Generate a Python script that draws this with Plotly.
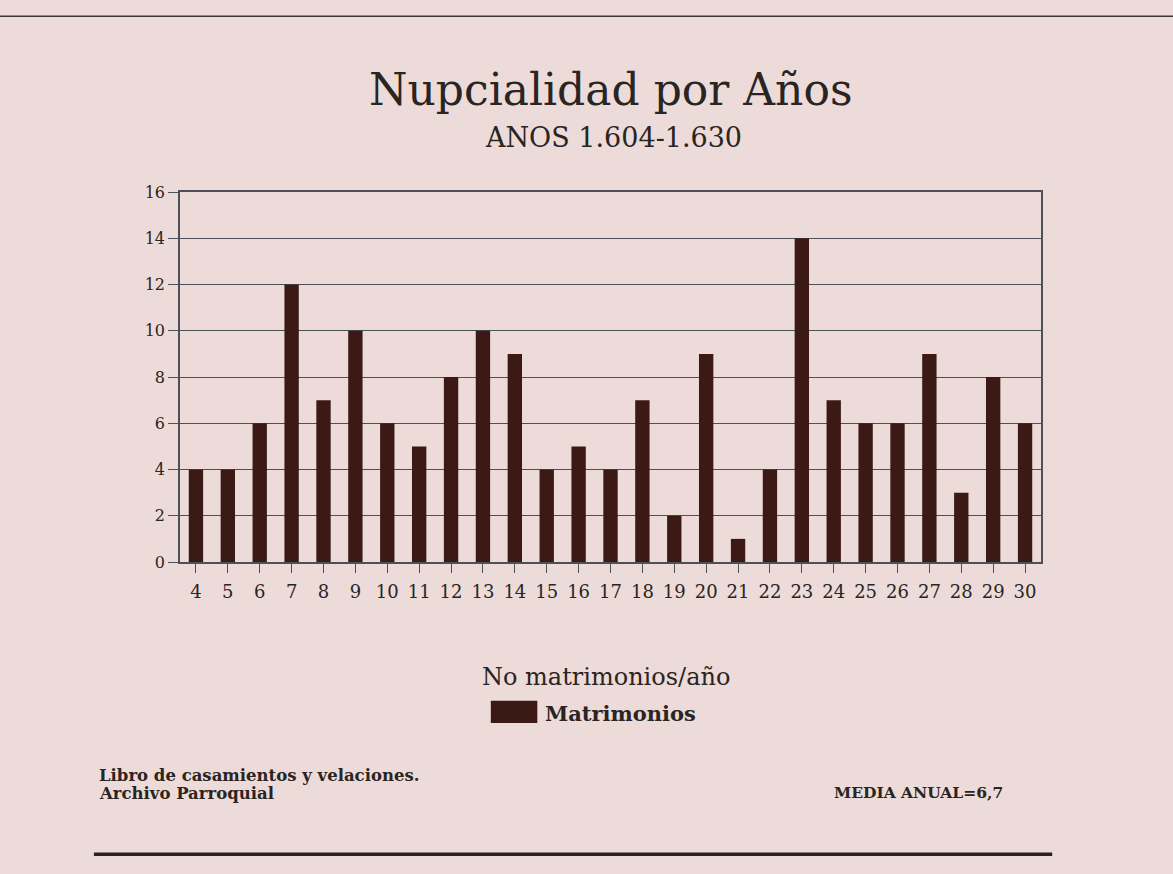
import plotly.graph_objects as go

years = [str(y) for y in range(4, 31)]
matrimonios = [4, 4, 6, 12, 7, 10, 6, 5, 8, 10, 9, 4, 5, 4, 7, 2, 9, 1, 4, 14, 7, 6, 6, 9, 3, 8, 6]
y_ticks = [0, 2, 4, 6, 8, 10, 12, 14, 16]

BG = "#ecdbd9"
BAR = "#3b1a15"
INK = "#2a2422"
GRID = "#4a5258"
SERIF = "DejaVu Serif"

fig = go.Figure()
fig.add_trace(go.Bar(x=years, y=matrimonios, marker=dict(color=BAR, line=dict(width=0)),
                     name="Matrimonios", showlegend=False))

fig.update_layout(
    width=1173, height=874,
    paper_bgcolor=BG, plot_bgcolor=BG,
    margin=dict(l=180, r=132, t=192, b=312),
    bargap=0.55,
    font=dict(family=SERIF, color=INK),
    xaxis=dict(type="category", showgrid=False, ticks="outside", ticklen=9, tickcolor=GRID,
               tickfont=dict(size=18, family=SERIF, color=INK), showline=True, linecolor=GRID,
               linewidth=1.5, mirror=True, ticklabelstandoff=4),
    yaxis=dict(range=[0, 16], tickvals=y_ticks, showgrid=True, gridcolor=GRID, gridwidth=1.2,
               ticks="outside", ticklen=10, tickcolor=GRID, zeroline=False,
               tickfont=dict(size=16, family=SERIF, color=INK), showline=True, linecolor=GRID,
               linewidth=1.5, mirror=True),
    shapes=[
        dict(type="line", xref="paper", yref="paper", x0=-0.21, x1=1.16, y0=1.475, y1=1.475,
             line=dict(color="#3a3434", width=1.5)),
        dict(type="line", xref="paper", yref="paper", x0=-0.1, x1=1.013, y0=-0.79, y1=-0.79,
             line=dict(color="#2a2222", width=3.5)),
        dict(type="rect", xref="paper", yref="paper", x0=0.361, x1=0.415, y0=-0.435, y1=-0.375,
             fillcolor=BAR, line=dict(width=0)),
    ],
    annotations=[
        dict(text="Nupcialidad por Años", xref="paper", yref="paper", x=0.5, y=1.276,
             showarrow=False, font=dict(size=44, family=SERIF, color=INK), xanchor="center", yanchor="middle"),
        dict(text="ANOS 1.604-1.630", xref="paper", yref="paper", x=0.503, y=1.146,
             showarrow=False, font=dict(size=27, family=SERIF, color=INK), xanchor="center", yanchor="middle"),
        dict(text="No matrimonios/año", xref="paper", yref="paper", x=0.495, y=-0.31,
             showarrow=False, font=dict(size=24, family=SERIF, color=INK), xanchor="center", yanchor="middle"),
        dict(text="<b>Matrimonios</b>", xref="paper", yref="paper", x=0.422, y=-0.41,
             showarrow=False, font=dict(size=21, family=SERIF, color=INK), xanchor="left", yanchor="middle"),
        dict(text="<b>Libro de casamientos y velaciones.</b>", xref="paper", yref="paper",
             x=-0.096, y=-0.578, showarrow=False, align="left",
             font=dict(size=16.5, family=SERIF, color=INK), xanchor="left", yanchor="middle"),
        dict(text="<b>Archivo Parroquial</b>", xref="paper", yref="paper",
             x=-0.096, y=-0.627, showarrow=False, align="left",
             font=dict(size=16.5, family=SERIF, color=INK), xanchor="left", yanchor="middle"),
        dict(text="<b>MEDIA ANUAL=6,7</b>", xref="paper", yref="paper", x=0.858, y=-0.622,
             showarrow=False, font=dict(size=15.5, family=SERIF, color=INK),
             xanchor="center", yanchor="middle"),
    ],
)

fig.write_html("out.html", config={"displayModeBar": False},
               post_script="document.body.style.margin='0';")
